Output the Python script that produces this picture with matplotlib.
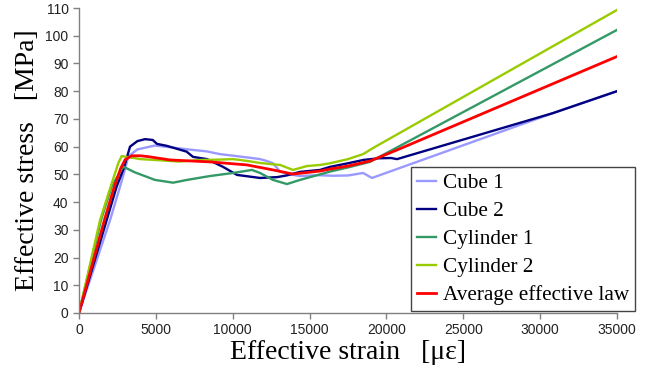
import matplotlib.pyplot as plt

# strain in microstrain, stress in MPa
cube1_x = [0, 2020, 2670, 3000, 3210, 3800, 4940, 6200, 7420, 8300, 9170, 10670, 11780,
           12230, 12620, 13080, 13700, 14380, 15500, 16500, 17500, 18480, 19060, 30840,
           35000]
cube1_y = [0, 33.5, 45.6, 52, 56.5, 59, 60.4, 59.6, 58.8, 58.3, 57.3, 56.3, 55.5,
           54.8, 54.0, 51.0, 50.0, 49.4, 49.7, 49.5, 49.6, 50.5, 48.7, 72.1,
           80]

cube2_x = [0, 1800, 2450, 2900, 3320, 3800, 4300, 4800, 5070, 5700, 6380, 7000, 7420,
           8330, 9370, 10280, 11780, 12880, 13500, 14380, 15680, 16330, 17500, 18500,
           19500, 20300, 20690, 30840, 35000]
cube2_y = [0, 33.5, 45.6, 52, 60, 62, 62.7, 62.4, 61, 60.3, 59.2, 58.2, 56.3,
           55.5, 52.7, 49.8, 48.7, 49.0, 49.6, 50.9, 51.6, 52.7, 54.0, 55.2,
           55.8, 55.9, 55.5, 72.1, 80]

cyl1_x = [0, 1430, 2120, 2880, 3600, 4940, 6120, 7030, 8520, 10020, 11250, 11780,
          12620, 13530, 14380, 15550, 16330, 17500, 18930, 35000]
cyl1_y = [0, 33.5, 45.6, 52.8, 50.8, 48, 47, 48, 49.4, 50.5, 51.6, 50.5,
          48, 46.5, 48, 49.8, 51, 52.5, 54.5, 102.1]

cyl2_x = [0, 1370, 2060, 2560, 2780, 4000, 5500, 6500, 7870, 9000, 10020, 11000, 11780,
          13080, 13920, 14830, 15680, 16330, 17500, 18480, 19130, 35000]
cyl2_y = [0, 33.5, 45.6, 54.1, 56.6, 55.5, 55, 54.6, 55.2, 55.3, 55.5, 54.8, 54.1,
          53.4, 51.6, 53, 53.4, 54, 55.5, 57.3, 59.5, 109.3]

avg_x = [0, 1650, 2300, 2700, 3000, 3430, 4000, 4500, 5920, 7000, 8520, 10930, 12620,
         13920, 15680, 16330, 17500, 18930, 20690, 35000]
avg_y = [0, 33.5, 45.6, 52, 55.3, 56.7, 56.7, 56.4, 55.2, 54.9, 54.5, 53.4, 51.6,
         50.1, 51.2, 51.9, 53.0, 54.8, 58.8, 92.5]

series = [
    ("Cube 1", cube1_x, cube1_y, "#9999FF"),
    ("Cube 2", cube2_x, cube2_y, "#000080"),
    ("Cylinder 1", cyl1_x, cyl1_y, "#339966"),
    ("Cylinder 2", cyl2_x, cyl2_y, "#99CC00"),
    ("Average effective law", avg_x, avg_y, "#FF0000"),
]

fig = plt.figure(figsize=(6.59, 3.74), dpi=100)
ax = fig.add_axes([79 / 659, 1 - 313 / 374, 538 / 659, 305 / 374])

for name, xs, ys, col in series:
    lw = 2.0 if name.startswith("Average") else 1.7
    ax.plot(xs, ys, color=col, lw=lw, label=name, solid_joinstyle="round")

ax.set_xlim(0, 35000)
ax.set_ylim(0, 110)
ax.set_xticks(range(0, 35001, 5000))
ax.set_yticks(range(0, 111, 10))

for s in ["top", "right"]:
    ax.spines[s].set_visible(False)
for s in ["left", "bottom"]:
    ax.spines[s].set_color("#808080")
    ax.spines[s].set_linewidth(1.0)
ax.tick_params(colors="#808080", length=4, width=1.0, labelcolor="#222222",
               labelsize=10)
for lab in ax.get_xticklabels() + ax.get_yticklabels():
    lab.set_family("Liberation Sans")

serif = "Liberation Serif"
ax.set_xlabel("Effective strain   [\u03bc\u03b5]", family=serif, fontsize=20, labelpad=2)
ax.set_ylabel("Effective stress   [MPa]", family=serif, fontsize=20, labelpad=4)

leg = ax.legend(loc="lower left", bbox_to_anchor=(0.617, 0.005), borderaxespad=0,
                prop={"family": serif, "size": 15.3}, handlelength=0.9,
                handletextpad=0.3, labelspacing=0.38, borderpad=0.3,
                fancybox=False, framealpha=1)
leg.get_frame().set_edgecolor("#444444")
leg.get_frame().set_linewidth(1.0)

fig.savefig("out.png", dpi=100)
